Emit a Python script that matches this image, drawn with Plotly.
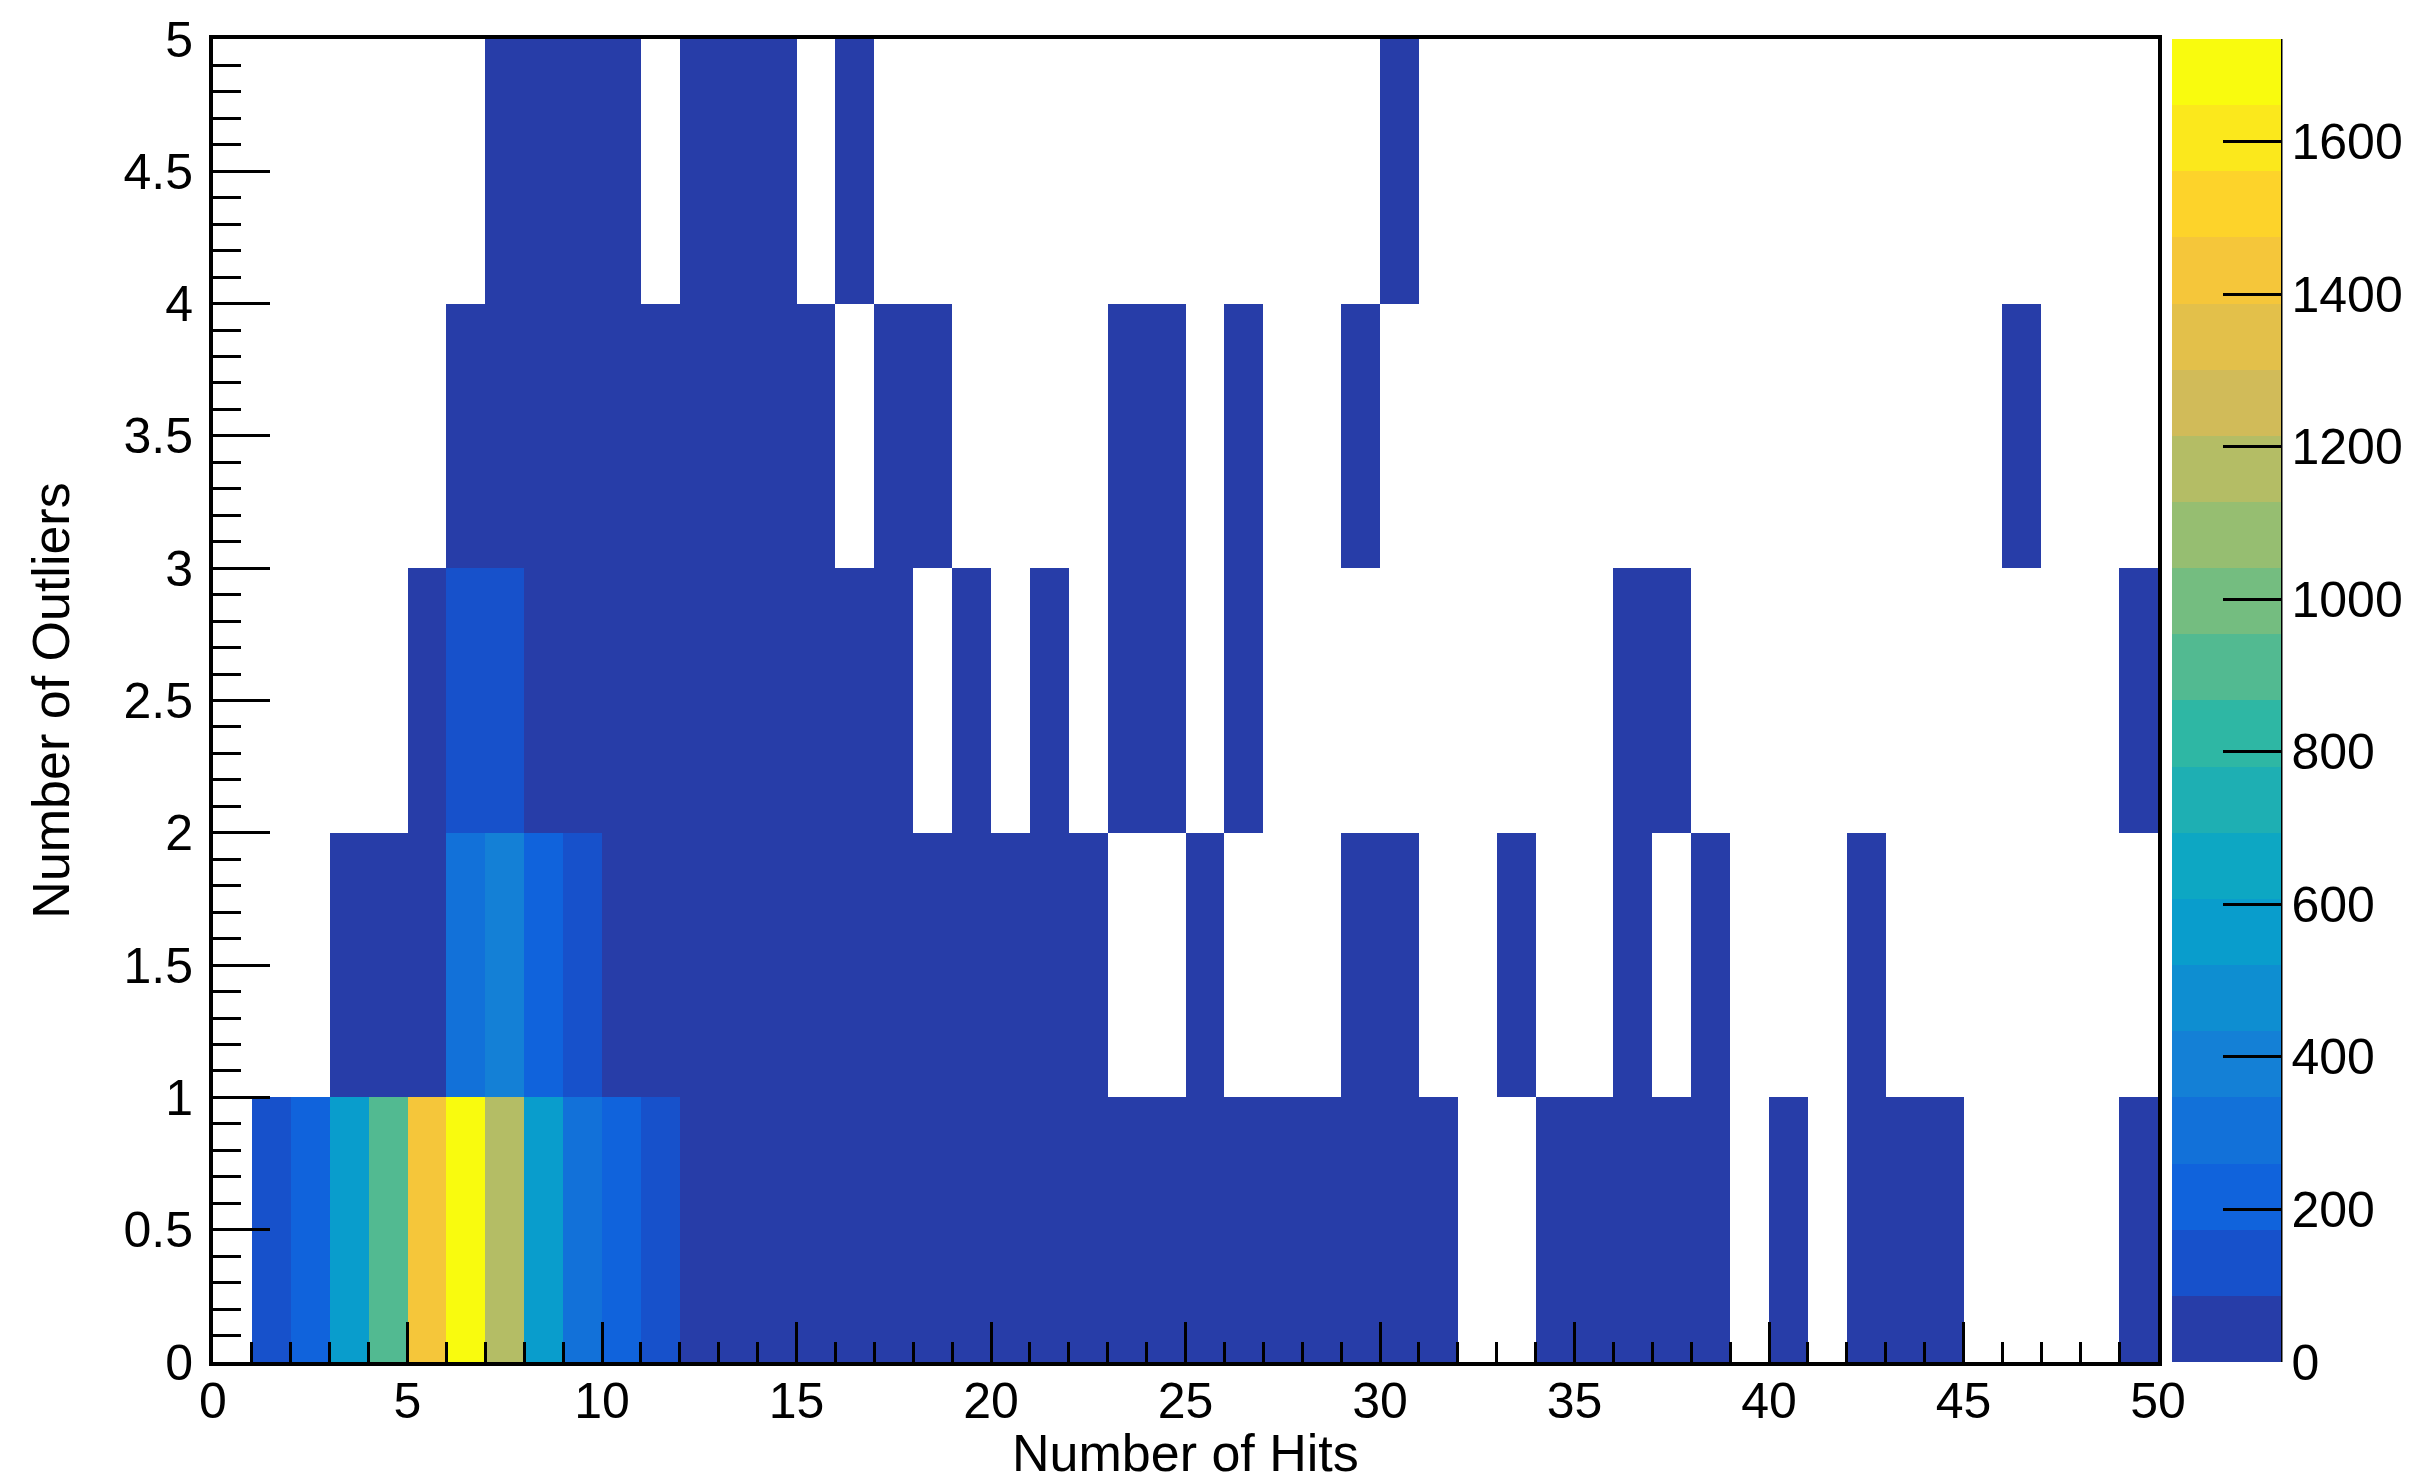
import plotly.graph_objects as go

# ---------------- data ----------------
x_centers = [i + 0.5 for i in range(50)]        # Number of Hits bins (0..50, width 1)
y_centers = [0.5, 1.5, 2.5, 3.5, 4.5]            # Number of Outliers bins (0..5, width 1)
N = None

row_y0 = [N, 130, 215, 570, 910, 1430, 1690, 1170, 565, 300,
          205, 120, 70, 55, 45, 38, 32, 27, 23, 20,
          17, 15, 13, 11, 10, 9, 8, 7, 6, 5,
          5, 4, N, N, 3, 3, 2, 2, 2, N,
          1, N, 1, 1, 1, N, N, N, N, 2]
row_y1 = [N, N, N, 15, 40, 75, 300, 390, 220, 110,
          60, 45, 35, 28, 22, 18, 15, 12, 10, 8,
          7, 5, 4, N, N, 2, N, N, N, 1,
          1, N, N, 1, N, N, 1, N, 1, N,
          N, N, 1, N, N, N, N, N, N, N]
row_y2 = [N, N, N, N, N, 8, 100, 95, 60, 45,
          35, 28, 22, 17, 13, 10, 8, 6, N, 3,
          N, 2, N, 2, 1, N, 1, N, N, N,
          N, N, N, N, N, N, 1, 1, N, N,
          N, N, N, N, N, N, N, N, N, 1]
row_y3 = [N, N, N, N, N, N, 6, 15, 20, 18,
          15, 12, 10, 8, 6, 4, N, 3, 2, N,
          N, N, N, 1, 1, N, 1, N, N, 1,
          N, N, N, N, N, N, N, N, N, N,
          N, N, N, N, N, N, 1, N, N, N]
row_y4 = [N, N, N, N, N, N, N, 3, 5, 6,
          5, N, 4, 3, 2, N, 2, N, N, N,
          N, N, N, N, N, N, N, N, N, N,
          1, N, N, N, N, N, N, N, N, N,
          N, N, N, N, N, N, N, N, N, N]
z_values = [row_y0, row_y1, row_y2, row_y3, row_y4]

z_max = 1735
n_contours = 20
cbar_ticks = [0, 200, 400, 600, 800, 1000, 1200, 1400, 1600]
x_title = "Number of Hits"
y_title = "Number of Outliers"

# ---------------- ROOT kBird palette (20 contour bands) ----------------
stops = [0.0000, 0.1250, 0.2500, 0.3750, 0.5000, 0.6250, 0.7500, 0.8750, 1.0000]
red = [0.2082, 0.0592, 0.0780, 0.0232, 0.1802, 0.5301, 0.8186, 0.9956, 0.9764]
green = [0.1664, 0.3599, 0.5041, 0.6419, 0.7178, 0.7492, 0.7328, 0.7862, 0.9832]
blue = [0.5293, 0.8684, 0.8385, 0.7914, 0.6425, 0.4662, 0.3499, 0.1968, 0.0539]


def bird(f):
    for k in range(len(stops) - 1):
        if f <= stops[k + 1] or k == len(stops) - 2:
            t = (f - stops[k]) / (stops[k + 1] - stops[k])
            t = min(max(t, 0), 1)
            r = red[k] + (red[k + 1] - red[k]) * t
            g = green[k] + (green[k + 1] - green[k]) * t
            b = blue[k] + (blue[k + 1] - blue[k]) * t
            return "rgb(%d,%d,%d)" % (round(r * 255), round(g * 255), round(b * 255))


ncol = 255
colorscale = []
for i in range(n_contours):
    idx = int((i + 0.99) * ncol / n_contours)
    c = bird(idx / (ncol - 1))
    colorscale.append([i / n_contours, c])
    colorscale.append([(i + 1) / n_contours, c])

# ---------------- figure ----------------
W, H = 2412, 1478
ml, mr, mt, mb = 205, 262, 31, 124
plot_w = W - ml - mr
plot_h = H - mt - mb
font_family = "Liberation Sans, Arial, Helvetica, sans-serif"
tick_size = 50
title_size = 52

cb_left_px = 2164
cb_right_px = 2273

fig = go.Figure(go.Heatmap(
    x=x_centers, y=y_centers, z=z_values,
    zmin=0, zmax=z_max,
    colorscale=colorscale,
    hoverongaps=False,
    colorbar=dict(
        x=(cb_left_px - ml) / plot_w, xanchor="left", xref="paper",
        y=0.5, yanchor="middle", len=1, lenmode="fraction",
        thickness=cb_right_px - cb_left_px, thicknessmode="pixels",
        xpad=0, ypad=0,
        outlinewidth=0,
        tickmode="array", tickvals=cbar_ticks,
        ticks="inside", ticklen=58, tickwidth=2.5, tickcolor="black",
        tickfont=dict(family=font_family, size=tick_size, color="black"),
    ),
))

axis_common = dict(
    showgrid=False, zeroline=False,
    showline=True, linecolor="black", linewidth=4, mirror=True,
    ticks="inside", tickcolor="black", tickwidth=2.5,
    tickfont=dict(family=font_family, size=tick_size, color="black"),
)

fig.update_xaxes(
    **axis_common,
    range=[0, 50], tick0=0, dtick=5, ticklen=40,
    ticklabelstandoff=-8,
    minor=dict(dtick=1, ticklen=20, ticks="inside", tickcolor="black", tickwidth=2.5),
)
fig.update_yaxes(
    **axis_common,
    range=[0, 5], tick0=0, dtick=0.5, ticklen=57,
    ticklabelstandoff=6,
    minor=dict(dtick=0.1, ticklen=28, ticks="inside", tickcolor="black", tickwidth=2.5),
    title=dict(text=y_title, font=dict(family=font_family, size=title_size, color="black"), standoff=38),
)

# x-axis title as an annotation so it sits just above the bottom edge
fig.add_annotation(
    text=x_title, xref="paper", yref="paper",
    x=0.5, xanchor="center",
    y=-(H - 2 - (H - mb)) / plot_h, yanchor="bottom",
    showarrow=False,
    font=dict(family=font_family, size=title_size, color="black"),
)

# axis line on the right edge of the palette (ROOT style)
fig.add_shape(type="line", xref="paper", yref="paper",
              x0=(cb_right_px - ml) / plot_w, x1=(cb_right_px - ml) / plot_w,
              y0=0, y1=1, line=dict(color="black", width=3))

fig.update_layout(
    width=W, height=H,
    margin=dict(l=ml, r=mr, t=mt, b=mb, autoexpand=False),
    paper_bgcolor="white", plot_bgcolor="white",
    font=dict(family=font_family, color="black"),
)

fig.write_html("out.html")
